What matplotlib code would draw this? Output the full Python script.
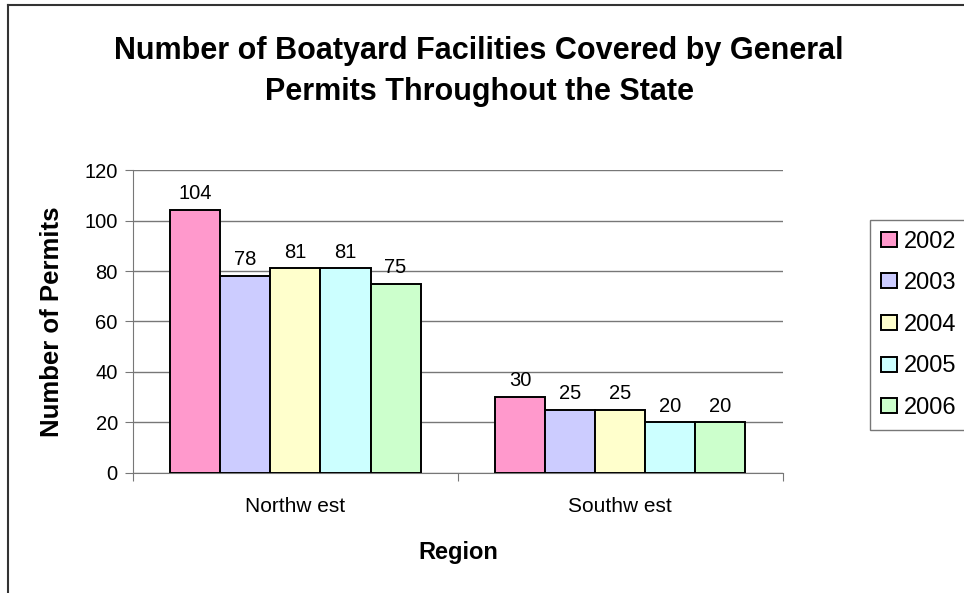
import numpy as np
import matplotlib.pyplot as plt
from matplotlib.lines import Line2D

plt.rcParams['font.family'] = ['Liberation Sans', 'DejaVu Sans']

regions = ["Northw est", "Southw est"]
years = ["2002", "2003", "2004", "2005", "2006"]
permits = {
    "2002": [104, 30],
    "2003": [78, 25],
    "2004": [81, 25],
    "2005": [81, 20],
    "2006": [75, 20],
}
colors = ["#FF99CC", "#CCCCFF", "#FFFFCC", "#CCFFFF", "#CCFFCC"]
title_lines = ["Number of Boatyard Facilities Covered by General",
               "Permits Throughout the State"]


def main():
    fig = plt.figure(figsize=(9.64, 5.93), dpi=100)
    ax = fig.add_axes([0.138, 0.2024, 0.674, 0.5109])

    # chart area border (top and left visible)
    fig.add_artist(Line2D([8 / 964, 8 / 964], [0, 1 - 5 / 593], color="#333333", lw=1.5))
    fig.add_artist(Line2D([8 / 964, 1], [1 - 5 / 593, 1 - 5 / 593], color="#333333", lw=1.5))

    x = np.arange(len(regions))
    width = 0.77 / len(years)
    for i, (yr, c) in enumerate(zip(years, colors)):
        pos = x - 0.385 + width * (i + 0.5)
        bars = ax.bar(pos, permits[yr], width, color=c, edgecolor="black",
                      linewidth=1.4, label=yr, zorder=3)
        ax.bar_label(bars, padding=5, fontsize=14.5)

    ax.set_xlim(-0.5, len(regions) - 0.5)
    ax.set_ylim(0, 120)
    ax.set_yticks(range(0, 121, 20))
    ax.tick_params(axis="y", labelsize=14.5, length=6, pad=5, color="#777777")
    ax.yaxis.grid(True, color="#777777", linewidth=1, zorder=0)

    ax.set_xticks([-0.5, 0.5, 1.5])
    ax.set_xticklabels([])
    ax.set_xticks(x, minor=True)
    ax.set_xticklabels(regions, minor=True, fontsize=15)
    ax.tick_params(axis="x", which="major", length=6, color="#777777")
    ax.tick_params(axis="x", which="minor", length=0, pad=17)

    for s in ["top", "right"]:
        ax.spines[s].set_visible(False)
    ax.spines["left"].set_color("#777777")
    ax.spines["bottom"].set_color("#777777")

    ax.set_ylabel("Number of Permits", fontsize=18.5, fontweight="bold", labelpad=15)
    ax.set_xlabel("Region", fontsize=17, fontweight="bold", labelpad=18)

    fig.text(0.497, 1 - 59 / 593, title_lines[0], ha="center", va="baseline",
             fontsize=22, fontweight="bold")
    fig.text(0.497, 1 - 100 / 593, title_lines[1], ha="center", va="baseline",
             fontsize=22, fontweight="bold")

    leg = fig.legend(loc="upper left", bbox_to_anchor=(870 / 964, 1 - 220 / 593), fontsize=17,
                     frameon=True, fancybox=False, edgecolor="#555555",
                     handlelength=0.68, handleheight=0.6, handletextpad=0.3,
                     labelspacing=0.83, borderpad=0.45, borderaxespad=0)
    leg.get_frame().set_linewidth(1.0)

    fig.savefig("out.png", dpi=100)


if __name__ == "__main__":
    main()
